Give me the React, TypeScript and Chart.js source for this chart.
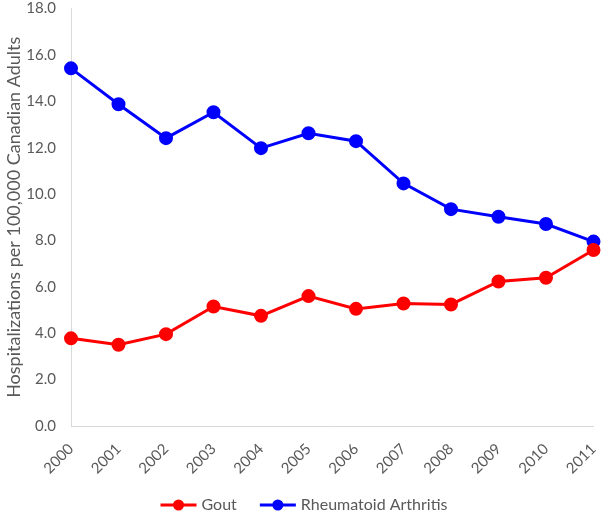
import React, { useEffect, useRef } from "react";
import { Chart, registerables } from "chart.js";

Chart.register(...registerables);

const years = ["2000", "2001", "2002", "2003", "2004", "2005", "2006", "2007", "2008", "2009", "2010", "2011"];
const goutValues = [3.78, 3.5, 3.96, 5.15, 4.75, 5.6, 5.05, 5.28, 5.24, 6.23, 6.39, 7.59];
const raValues = [15.42, 13.87, 12.41, 13.53, 11.98, 12.62, 12.28, 10.46, 9.35, 9.02, 8.71, 7.95];
const seriesNames = ["Gout", "Rheumatoid Arthritis"];
const seriesColors = ["#FF0000", "#0000FF"];
const yTitle = "Hospitalizations per 100,000 Canadian Adults";

const FONT = "Lato, 'Open Sans', sans-serif";
const GRAY = "#595959";

const legendPlugin = {
  id: "excelLegend",
  afterDraw(chart: any) {
    const ctx = chart.ctx;
    ctx.save();
    ctx.font = `16px ${FONT}`;
    const lineLen = 36;
    const gap = 5;
    const itemGap = 23;
    const widths = seriesNames.map((n) => ctx.measureText(n).width);
    let total = 0;
    widths.forEach((w, i) => {
      total += lineLen + gap + w + (i < widths.length - 1 ? itemGap : 0);
    });
    let x = chart.width / 2 + 3 - total / 2;
    const y = chart.height - 6;
    seriesNames.forEach((name, i) => {
      ctx.strokeStyle = seriesColors[i];
      ctx.lineWidth = 3;
      ctx.beginPath();
      ctx.moveTo(x, y);
      ctx.lineTo(x + lineLen, y);
      ctx.stroke();
      ctx.fillStyle = seriesColors[i];
      ctx.beginPath();
      ctx.arc(x + lineLen / 2, y, 5.5, 0, Math.PI * 2);
      ctx.fill();
      ctx.fillStyle = GRAY;
      ctx.textAlign = "left";
      ctx.textBaseline = "middle";
      ctx.fillText(name, x + lineLen + gap, y);
      x += lineLen + gap + widths[i] + itemGap;
    });
    ctx.restore();
  },
};

export default function App() {
  const ref = useRef<HTMLCanvasElement>(null);
  useEffect(() => {
    document.body.style.margin = "0";
    const chart = new Chart(ref.current!, {
      type: "line",
      data: {
        labels: years,
        datasets: [
          {
            label: seriesNames[0],
            data: goutValues,
            borderColor: seriesColors[0],
            backgroundColor: seriesColors[0],
            borderWidth: 3,
            pointRadius: 5.5,
            pointHoverRadius: 5.5,
            clip: false,
          } as any,
          {
            label: seriesNames[1],
            data: raValues,
            borderColor: seriesColors[1],
            backgroundColor: seriesColors[1],
            borderWidth: 3,
            pointRadius: 5.5,
            pointHoverRadius: 5.5,
            clip: false,
          } as any,
        ],
      },
      options: {
        responsive: false,
        animation: false,
        layout: { padding: { left: 0, top: 7, right: 5, bottom: 0 } },
        plugins: {
          legend: { display: false },
          tooltip: { enabled: false },
        },
        scales: {
          x: {
            offset: false,
            grid: { display: false, drawTicks: false },
            border: { display: true, color: "#D9D9D9", width: 1 },
            ticks: {
              color: GRAY,
              font: { family: FONT, size: 15 },
              maxRotation: 45,
              minRotation: 45,
              padding: 14,
              autoSkip: false,
            },
            afterFit(scale: any) {
              scale.height = 85;
              scale.paddingLeft = 0;
              scale.paddingRight = 0;
            },
          },
          y: {
            min: 0,
            max: 18,
            grid: { display: false, drawTicks: false },
            border: { display: true, color: "#D9D9D9", width: 1 },
            ticks: {
              stepSize: 2,
              color: GRAY,
              font: { family: FONT, size: 15 },
              padding: 15,
              callback: (v: any) => Number(v).toFixed(1),
            },
            title: {
              display: true,
              text: yTitle,
              color: GRAY,
              font: { family: FONT, size: 18 },
              padding: { top: 3, bottom: 0 },
            },
            afterFit(scale: any) {
              scale.width = 71;
              scale.paddingTop = 0;
              scale.paddingBottom = 0;
            },
          },
        },
      },
      plugins: [legendPlugin],
    });
    return () => chart.destroy();
  }, []);
  return (
    <div style={{ width: 602, height: 511 }}>
      <canvas ref={ref} width={602} height={511} />
    </div>
  );
}
